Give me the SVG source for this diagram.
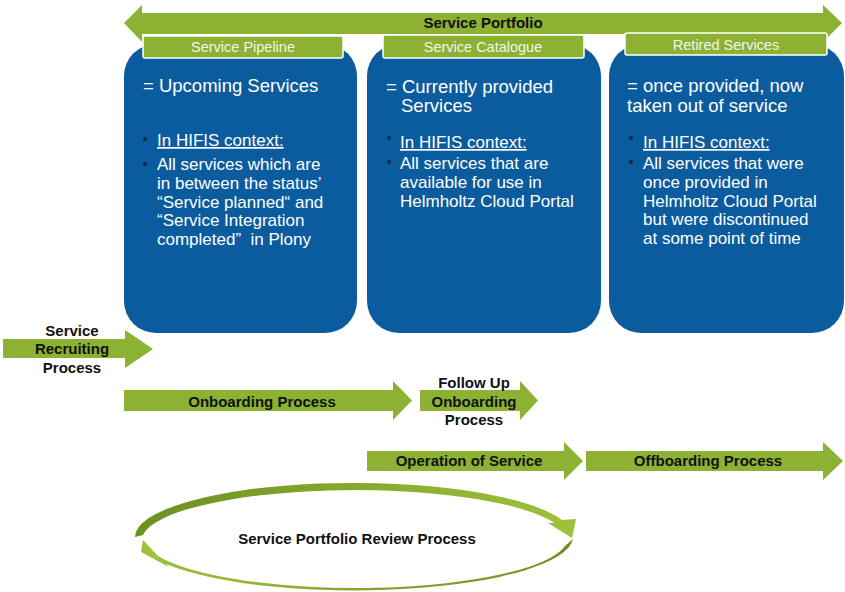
<svg xmlns="http://www.w3.org/2000/svg" width="845" height="592" viewBox="0 0 845 592">
<defs>
<style>
.g{fill:#8cb133}
.box{fill:#0b5c9e}
.tab{fill:#8cb133;stroke:#ffffff;stroke-width:1.5}
.tabt{font-family:"Liberation Sans",Arial,sans-serif;font-size:14.5px;fill:#f4f6e8;text-anchor:middle}
.lbl{font-family:"Liberation Sans",Arial,sans-serif;font-size:15px;font-weight:bold;fill:#111111;text-anchor:middle}
.ttl{font-family:"Liberation Sans",Arial,sans-serif;font-size:18.5px;fill:#ffffff}
.txt{font-family:"Liberation Sans",Arial,sans-serif;font-size:17px;fill:#ffffff}
.u{text-decoration:underline}
.dot{fill:#142244}
</style>
<linearGradient id="gTop" x1="0" y1="0" x2="1" y2="0">
<stop offset="0" stop-color="#6b9022"/>
<stop offset="1" stop-color="#9fc23a"/>
</linearGradient>
<linearGradient id="gBot" x1="1" y1="0" x2="0" y2="0">
<stop offset="0" stop-color="#6b9022"/>
<stop offset="1" stop-color="#9fc23a"/>
</linearGradient>
</defs>
<rect width="845" height="592" fill="#ffffff"/>

<g id="service-portfolio">
<polygon class="g" points="124,23 142,5 142,13 823,13 823,5 842,23 823,42 823,34 142,34 142,42"/>
<text class="lbl" x="483" y="28">Service Portfolio</text>
</g>

<g id="service-pipeline">
<rect class="box" x="124" y="44" width="233" height="289" rx="32"/>
<rect class="tab" x="143" y="36" width="200" height="22" rx="2"/>
<text class="tabt" x="243" y="52">Service Pipeline</text>
<text class="ttl" x="143" y="92">= Upcoming Services</text>
<circle class="dot" cx="145" cy="139" r="2"/>
<text class="txt u" x="157" y="146">In HIFIS context:</text>
<circle class="dot" cx="145" cy="164" r="2"/>
<text class="txt" x="157" y="170">All services which are</text>
<text class="txt" x="157" y="189">in between the status’</text>
<text class="txt" x="157" y="208">“Service planned“ and</text>
<text class="txt" x="157" y="226">“Service Integration</text>
<text class="txt" x="157" y="245">completed”&#160; in Plony</text>
</g>

<g id="service-catalogue">
<rect class="box" x="367" y="44" width="234" height="289" rx="32"/>
<rect class="tab" x="383" y="35" width="201" height="23" rx="2"/>
<text class="tabt" x="483" y="52">Service Catalogue</text>
<text class="ttl" x="386" y="93">= Currently provided</text>
<text class="ttl" x="401" y="112">Services</text>
<circle class="dot" cx="389" cy="138" r="2"/>
<text class="txt u" x="400" y="148">In HIFIS context:</text>
<circle class="dot" cx="389" cy="162" r="2"/>
<text class="txt" x="400" y="169">All services that are</text>
<text class="txt" x="400" y="188">available for use in</text>
<text class="txt" x="400" y="207">Helmholtz Cloud Portal</text>
</g>

<g id="retired-services">
<rect class="box" x="609" y="44" width="235" height="289" rx="32"/>
<rect class="tab" x="625" y="33" width="202" height="22" rx="2"/>
<text class="tabt" x="726" y="50">Retired Services</text>
<text class="ttl" x="627" y="92">= once provided, now</text>
<text class="ttl" x="627" y="112">taken out of service</text>
<circle class="dot" cx="631" cy="138" r="2"/>
<text class="txt u" x="643" y="148">In HIFIS context:</text>
<circle class="dot" cx="631" cy="162" r="2"/>
<text class="txt" x="643" y="169">All services that were</text>
<text class="txt" x="643" y="188">once provided in</text>
<text class="txt" x="643" y="207">Helmholtz Cloud Portal</text>
<text class="txt" x="643" y="225">but were discontinued</text>
<text class="txt" x="643" y="244">at some point of time</text>
</g>

<g id="service-recruiting">
<polygon class="g" points="3,339 125,339 125,330 153,349 125,368 125,358 3,358"/>
<text class="lbl" x="72" y="336">Service</text>
<text class="lbl" x="72" y="354">Recruiting</text>
<text class="lbl" x="72" y="373">Process</text>
</g>

<g id="onboarding">
<polygon class="g" points="124,390 393,390 393,381 412,400.5 393,420 393,411 124,411"/>
<text class="lbl" x="262" y="407">Onboarding Process</text>
</g>

<g id="follow-up-onboarding">
<polygon class="g" points="420,390 520,390 520,381 538,400.5 520,420 520,411 420,411"/>
<text class="lbl" x="474" y="388">Follow Up</text>
<text class="lbl" x="474" y="407">Onboarding</text>
<text class="lbl" x="474" y="425">Process</text>
</g>

<g id="operation">
<polygon class="g" points="367,451 564,451 564,442 583,461 564,480 564,471 367,471"/>
<text class="lbl" x="469" y="466">Operation of Service</text>
</g>

<g id="offboarding">
<polygon class="g" points="586,451 823,451 823,442 843,461 823,480 823,471 586,471"/>
<text class="lbl" x="708" y="466">Offboarding Process</text>
</g>

<g id="review">
<text class="lbl" x="357" y="544">Service Portfolio Review Process</text>
</g>

<g id="connectors">
<path fill="url(#gTop)" d="M135,537 A219 54 0 0 1 562,520 L576,519 L572,538 L548,523 L555,523 A213 50 0 0 0 143,535 Z"/>
<path fill="url(#gBot)" d="M573,539 A219 54 0 0 1 166,564 L169,567 L141,552 L143,540 L158,556 A212 50 0 0 0 565,546 Z"/>
</g>
</svg>
